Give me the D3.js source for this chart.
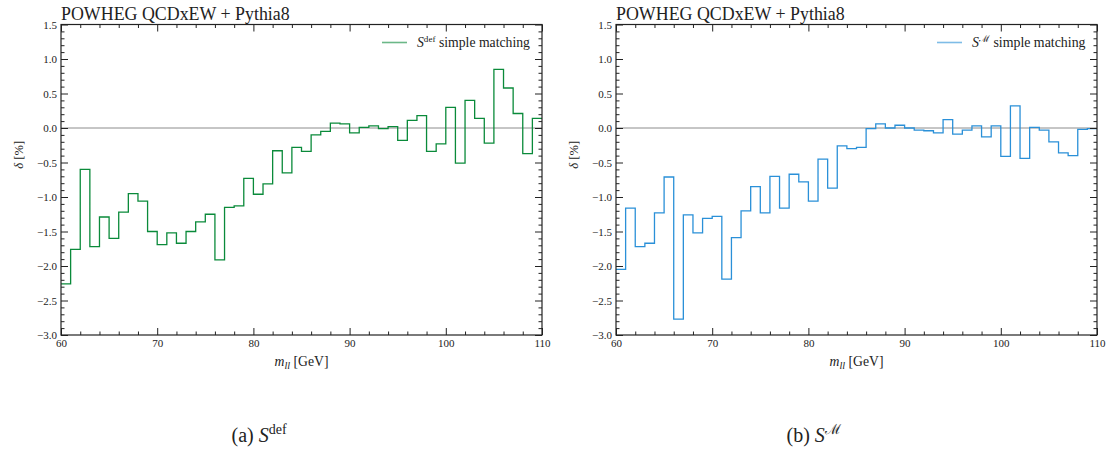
<!DOCTYPE html>
<html>
<head>
<meta charset="utf-8">
<script src="https://cdn.jsdelivr.net/npm/d3@7"></script>
<style>
  body { margin: 0; background: #fff; }
  svg text { fill: #222; }
</style>
</head>
<body>
<div id="chart"></div>
<script>
// bin edges of the m_ll histogram [GeV]
const binEdges = [60, 61, 62, 63, 64, 65, 66, 67, 68, 69, 70, 71, 72, 73, 74, 75, 76, 77, 78, 79,
    80, 81, 82, 83, 84, 85, 86, 87, 88, 89, 90, 91, 92, 93, 94, 95, 96, 97, 98, 99,
    100, 101, 102, 103, 104, 105, 106, 107, 108, 109, 110];

// delta [%] per bin, S^def
const deltaDef = [-2.26, -1.76, -0.60, -1.72, -1.29, -1.60, -1.22, -0.95, -1.06, -1.50,
    -1.69, -1.52, -1.67, -1.50, -1.36, -1.25, -1.91, -1.15, -1.13, -0.73,
    -0.96, -0.81, -0.33, -0.65, -0.28, -0.34, -0.10, -0.05, 0.07, 0.06,
    -0.07, 0.01, 0.03, -0.01, 0.02, -0.18, 0.11, 0.18, -0.34, -0.23,
    0.30, -0.51, 0.40, 0.14, -0.22, 0.85, 0.58, 0.21, -0.37, 0.14];

// delta [%] per bin, S^M
const deltaM = [-2.05, -1.16, -1.72, -1.67, -1.23, -0.71, -2.77, -1.26, -1.52, -1.31,
    -1.28, -2.19, -1.59, -1.20, -0.85, -1.23, -0.70, -1.16, -0.67, -0.78,
    -1.06, -0.45, -0.87, -0.26, -0.30, -0.28, -0.01, 0.06, 0.00, 0.04,
    0.00, -0.03, -0.04, -0.07, 0.12, -0.09, -0.03, 0.03, -0.13, 0.03,
    -0.41, 0.32, -0.44, 0.01, -0.03, -0.20, -0.36, -0.40, -0.02, -0.01];

const xTicks = [60, 70, 80, 90, 100, 110];
const yTicks = [-3.0, -2.5, -2.0, -1.5, -1.0, -0.5, 0.0, 0.5, 1.0, 1.5];

const panels = [
    { left: 61, values: deltaDef, color: "#0a8a3a", sup: "def", caption: "(a) ", label: "S" },
    { left: 616, values: deltaM, color: "#2a90d8", sup: "\u2133", caption: "(b) ", label: "S" }
];

const W = 1113, H = 450;
const plotW = 481, plotTop = 24.5, plotH = 310.5;
const serif = "'Liberation Serif', 'DejaVu Serif', serif";

const svg = d3.select("#chart").append("svg")
    .attr("width", W).attr("height", H)
    .attr("font-family", serif);

const fmt = d3.format(".1f");
const minus = (s) => s.replace("-", "\u2212");

// scale a text node's font sizes so it spans the given width
function fit(sel, width) {
    const k = width / sel.node().getComputedTextLength();
    sel.attr("font-size", +sel.attr("font-size") * k);
    sel.selectAll("tspan[font-size]").each(function () {
        const t = d3.select(this);
        t.attr("font-size", +t.attr("font-size") * k);
    });
}

panels.forEach((p) => {
    const x = d3.scaleLinear().domain([60, 110]).range([0, plotW]);
    const y = d3.scaleLinear().domain([-3, 1.5]).range([plotH, 0]);
    const g = svg.append("g").attr("transform", `translate(${p.left},${plotTop})`);

    // zero line
    g.append("line")
        .attr("x1", 0).attr("x2", plotW)
        .attr("y1", y(0)).attr("y2", y(0))
        .attr("stroke", "#8c8c8c").attr("stroke-width", 1);

    // step histogram
    const pts = p.values.map((v, i) => [binEdges[i], v]);
    pts.push([binEdges[binEdges.length - 1], p.values[p.values.length - 1]]);
    const line = d3.line()
        .x((d) => x(d[0]))
        .y((d) => y(d[1]))
        .curve(d3.curveStepAfter);
    g.append("path")
        .datum(pts)
        .attr("fill", "none")
        .attr("stroke", p.color)
        .attr("stroke-width", 1.3)
        .attr("d", line);

    const xMinor = d3.range(60, 111, 2).filter((v) => v % 10 !== 0);
    const yMinor = d3.range(-30, 16, 1).filter((v) => v % 5 !== 0).map((v) => v / 10);

    const styleAxis = (sel) => {
        sel.attr("font-family", serif);
        sel.selectAll(".domain").remove();
        sel.selectAll("line").attr("stroke", "#222").attr("stroke-width", 1);
        sel.selectAll("text").attr("font-size", 11);
    };

    // bottom
    g.append("g").attr("transform", `translate(0,${plotH})`)
        .call(d3.axisBottom(x).tickValues(xTicks).tickSize(-7).tickPadding(4).tickFormat(d3.format("d")))
        .call(styleAxis);
    g.append("g").attr("transform", `translate(0,${plotH})`)
        .call(d3.axisBottom(x).tickValues(xMinor).tickSize(-3.5).tickFormat(""))
        .call(styleAxis);
    // top
    g.append("g")
        .call(d3.axisTop(x).tickValues(xTicks).tickSize(-7).tickFormat(""))
        .call(styleAxis);
    g.append("g")
        .call(d3.axisTop(x).tickValues(xMinor).tickSize(-3.5).tickFormat(""))
        .call(styleAxis);
    // left
    g.append("g")
        .call(d3.axisLeft(y).tickValues(yTicks).tickSize(-7).tickPadding(4).tickFormat((d) => minus(fmt(d))))
        .call(styleAxis);
    g.append("g")
        .call(d3.axisLeft(y).tickValues(yMinor).tickSize(-3.5).tickFormat(""))
        .call(styleAxis);
    // right
    g.append("g").attr("transform", `translate(${plotW},0)`)
        .call(d3.axisRight(y).tickValues(yTicks).tickSize(-7).tickFormat(""))
        .call(styleAxis);
    g.append("g").attr("transform", `translate(${plotW},0)`)
        .call(d3.axisRight(y).tickValues(yMinor).tickSize(-3.5).tickFormat(""))
        .call(styleAxis);

    // frame
    g.append("rect")
        .attr("width", plotW).attr("height", plotH)
        .attr("fill", "none").attr("stroke", "#222").attr("stroke-width", 1.2);

    // title
    const title = g.append("text")
        .attr("x", 0).attr("y", -5)
        .attr("font-size", 16)
        .text("POWHEG QCDxEW + Pythia8");
    fit(title, 229);

    // axis labels
    const xl = g.append("text")
        .attr("x", plotW / 2).attr("y", plotH + 31)
        .attr("text-anchor", "middle")
        .attr("font-size", 12);
    xl.append("tspan").attr("font-style", "italic").text("m");
    xl.append("tspan").attr("font-style", "italic").attr("font-size", 9).attr("dy", 3).text("ll");
    xl.append("tspan").attr("dy", -3).text(" [GeV]");
    fit(xl, 54);

    const yl = g.append("text")
        .attr("transform", `translate(-38,${plotH / 2 - 25}) rotate(-90)`)
        .attr("text-anchor", "middle")
        .attr("font-size", 12);
    yl.append("tspan").attr("font-style", "italic").text("\u03b4");
    yl.append("tspan").text(" [%]");
    fit(yl, 28);

    // legend
    const lg = g.append("g").attr("transform", `translate(${plotW - 160},18)`);
    lg.append("line")
        .attr("x1", 0).attr("x2", 25)
        .attr("stroke", p.color).attr("stroke-width", 1.6).attr("opacity", 0.6);
    const lt = lg.append("text").attr("x", 35).attr("y", 4).attr("font-size", 12);
    lt.append("tspan").attr("font-style", "italic").text(p.label);
    lt.append("tspan").attr("font-size", 8).attr("dy", -5).text(p.sup);
    lt.append("tspan").attr("dy", 5).text(" simple matching");
    fit(lt, 113);

    // caption
    const cp = svg.append("text")
        .attr("x", p.left + plotW / 2 - 70).attr("y", 442)
        .attr("font-size", 20);
    cp.append("tspan").text(p.caption);
    cp.append("tspan").attr("font-style", "italic").text(p.label);
    cp.append("tspan").attr("font-size", 14).attr("dy", -8).text(p.sup);
});
</script>
</body>
</html>
